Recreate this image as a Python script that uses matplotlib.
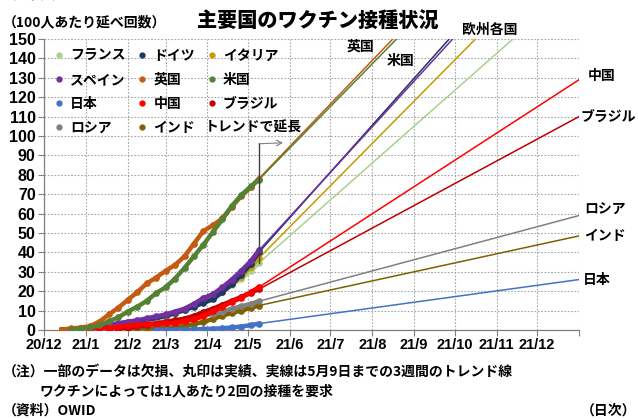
import numpy as np
import pandas as pd
import matplotlib
matplotlib.use('Agg')
import matplotlib.pyplot as plt
from matplotlib.lines import Line2D

plt.rcParams['font.family'] = ['Noto Sans CJK JP', 'DejaVu Sans']

# weekly readings (doses per 100 people)
dates = pd.to_datetime(['2020-12-14', '2020-12-21', '2020-12-28', '2021-01-04', '2021-01-11',
                        '2021-01-18', '2021-01-25', '2021-02-01', '2021-02-08', '2021-02-15',
                        '2021-02-22', '2021-03-01', '2021-03-08', '2021-03-15', '2021-03-22',
                        '2021-03-29', '2021-04-05', '2021-04-12', '2021-04-19', '2021-04-26',
                        '2021-05-03', '2021-05-09'])
nan = np.nan
france = [nan, nan, 0.0, 0.1, 0.5, 1.2, 2.1, 2.9, 3.8, 4.9, 6.0, 7.1, 8.5, 10.2, 12.2, 14.5, 16.5, 20.0, 23.0, 26.5, 30.5, 34.5]
germany = [nan, nan, 0.2, 0.5, 1.0, 1.8, 2.6, 3.5, 4.2, 5.2, 6.2, 7.3, 8.7, 10.3, 12.0, 14.0, 15.8, 19.5, 23.5, 28.5, 34.0, 40.0]
italy = [nan, nan, 0.1, 0.5, 1.4, 2.2, 2.8, 3.4, 4.2, 5.2, 6.2, 7.4, 8.8, 10.5, 12.3, 14.3, 16.5, 19.8, 23.5, 27.5, 32.5, 37.0]
spain = [nan, nan, 0.1, 0.5, 1.5, 2.5, 3.5, 4.3, 5.0, 6.0, 7.0, 8.0, 9.5, 11.0, 13.5, 16.5, 18.5, 22.0, 26.0, 30.5, 35.5, 41.0]
uk = [0.2, 0.8, 1.2, 2.0, 4.3, 8.0, 11.5, 15.5, 19.5, 24.0, 27.0, 30.5, 33.5, 38.0, 44.5, 51.0, 54.0, 57.5, 63.5, 69.0, 73.5, 78.0]
us = [nan, 0.2, 0.6, 1.3, 2.5, 4.5, 6.5, 9.5, 12.0, 15.0, 19.0, 22.0, 26.5, 32.0, 38.0, 44.0, 50.5, 57.0, 64.0, 69.5, 74.0, 77.5]
japan = [nan] * 10 + [0.01, 0.03, 0.1, 0.2, 0.3, 0.5, 0.7, 0.9, 1.3, 1.8, 2.5, 3.3]
china = [0.1, 0.2, 0.3, 0.4, 0.7, 1.0, 1.5, 2.2, 2.8, 2.9, 3.0, 3.4, 3.7, 4.6, 5.5, 7.0, 9.6, 12.0, 14.5, 16.5, 19.5, 22.0]
brazil = [nan] * 5 + [0.01, 0.5, 1.2, 1.9, 2.6, 3.3, 4.0, 4.9, 5.9, 7.3, 9.2, 11.0, 13.0, 15.0, 17.0, 19.3, 21.0]
russia = [0.05, 0.1, 0.3, 0.5, 0.7, 1.0, 1.4, 2.0, 2.5, 3.0, 3.7, 4.5, 5.0, 5.5, 6.5, 7.5, 8.3, 9.5, 11.0, 12.2, 13.5, 14.8]
india = [nan] * 5 + [0.01, 0.1, 0.3, 0.4, 0.6, 0.8, 1.0, 1.5, 2.2, 3.0, 4.2, 5.7, 7.4, 8.8, 10.0, 11.5, 12.6]

# trend line value reached at 2022/1/1 (extended, clipped at 150)
trend_end_date = pd.Timestamp('2022-01-01')
trend_end = {'フランス': 180, 'ドイツ': 225, 'イタリア': 204, 'スペイン': 221, '英国': 250, '米国': 246,
             '日本': 26, '中国': 129, 'ブラジル': 110, 'ロシア': 59, 'インド': 48.5}

series = {'フランス': france, 'ドイツ': germany, 'イタリア': italy, 'スペイン': spain,
          '英国': uk, '米国': us, '日本': japan, '中国': china, 'ブラジル': brazil,
          'ロシア': russia, 'インド': india}
colors = {'フランス': '#a9d18e', 'ドイツ': '#203864', 'イタリア': '#c49a00', 'スペイン': '#7030a0',
          '英国': '#c55a11', '米国': '#548235', '日本': '#4472c4', '中国': '#ff0000',
          'ブラジル': '#c00000', 'ロシア': '#808080', 'インド': '#7f6000'}
draw_order = ['フランス', 'イタリア', 'ドイツ', 'スペイン', 'インド', 'ロシア', 'ブラジル', '中国', '日本', '英国', '米国']
legend_order = ['フランス', 'スペイン', '日本', 'ロシア', 'ドイツ', '英国', '中国', 'インド', 'イタリア', '米国', 'ブラジル']

month_ticks = pd.date_range('2020-12-01', '2022-01-01', freq='MS')
tick_labels = ['20/12', '21/1', '21/2', '21/3', '21/4', '21/5', '21/6', '21/7', '21/8',
               '21/9', '21/10', '21/11', '21/12', '']

B = dict(fontweight='bold')

fig = plt.figure(figsize=(6.38, 4.19), dpi=100)
ax = fig.add_axes([0.069, 0.2124, 0.8385, 0.6945])

for z, name in enumerate(draw_order):
    vals = series[name]
    c = colors[name]
    ax.plot([dates[-1], trend_end_date], [vals[-1], trend_end[name]], color=c, lw=1.1, zorder=2)
    ax.plot(dates, vals, color=c, lw=3.2, marker='o', ms=3.8, zorder=3 + z)

ax.set_xlim(pd.Timestamp('2020-12-01'), trend_end_date)
ax.set_ylim(0, 150)
ax.set_yticks(range(0, 151, 10))
ax.set_xticks(month_ticks)
ax.set_xticklabels(tick_labels, fontfamily='Liberation Sans', fontweight='bold', fontsize=10.5)
for lab in ax.get_yticklabels():
    lab.set_fontfamily('Liberation Sans')
    lab.set_fontweight('bold')
    lab.set_fontsize(11.5)
ax.tick_params(axis='both', direction='out', length=4, color='#808080', width=0.8, pad=2)
ax.grid(True, color='#a6a6a6', linestyle=(0, (1.5, 1.5)), lw=0.8)
ax.set_axisbelow(True)
for s in ['top', 'right']:
    ax.spines[s].set_visible(False)
for s in ['left', 'bottom']:
    ax.spines[s].set_color('#808080')
    ax.spines[s].set_linewidth(0.9)

handles = [Line2D([], [], ls='none', marker='o', ms=3.5, color=colors[n]) for n in legend_order]
ax.legend(handles, legend_order, ncol=3, loc='upper left', bbox_to_anchor=(0.01, 0.985),
          frameon=False, prop={'size': 10, 'weight': 'bold'}, handlelength=0.6,
          handletextpad=0.5, labelspacing=0.72, columnspacing=0.9, borderaxespad=0)

# labels at the end of the trend lines
ax.text(pd.Timestamp('2021-07-23'), 146, '英国', fontsize=10, ha='center', va='center', **B)
ax.text(pd.Timestamp('2021-08-22'), 138.5, '米国', fontsize=10, ha='center', va='center', **B)
ax.text(pd.Timestamp('2021-10-27'), 155, '欧州各国', fontsize=10, ha='center', va='center', clip_on=False, **B)
right_labels = {'中国': (6, 3), 'ブラジル': (1, 0), 'ロシア': (4, 5), 'インド': (4, 0), '日本': (3, 0)}
for name, (dx, dy) in right_labels.items():
    ax.annotate(name, xy=(trend_end_date, trend_end[name]), xytext=(dx, dy), textcoords='offset points',
                fontsize=10, ha='left', va='center', annotation_clip=False, **B)

# trend annotation
ax.text(pd.Timestamp('2021-05-05'), 104.5, 'トレンドで延長', fontsize=10, ha='center', va='center', **B)
ax.plot([pd.Timestamp('2021-05-09'), pd.Timestamp('2021-05-09')], [34.5, 96], color='#404040', lw=1.0, zorder=20)
ax.annotate('', xy=(pd.Timestamp('2021-05-27'), 96.5), xytext=(pd.Timestamp('2021-05-09'), 96),
            arrowprops=dict(arrowstyle='->', color='#808080', lw=0.8, shrinkA=0, shrinkB=0))

fig.text(0.498, 0.947, '主要国のワクチン接種状況', fontsize=14.5, ha='center', va='center', fontweight='black')
fig.text(0.005, 0.947, '（100人あたり延べ回数）', fontsize=10, ha='left', va='center', **B)
fig.text(0.005, 1.012, '（図表1）', fontsize=10, ha='left', va='center', **B)

fig.text(0.005, 0.112, '（注）一部のデータは欠損、丸印は実績、実線は5月9日までの3週間のトレンド線',
         fontsize=10, ha='left', va='center', **B)
fig.text(0.062, 0.066, 'ワクチンによっては1人あたり2回の接種を要求', fontsize=10, ha='left', va='center', **B)
fig.text(0.005, 0.019, '（資料）OWID', fontsize=10, ha='left', va='center', **B)
fig.text(0.997, 0.019, '（日次）', fontsize=10, ha='right', va='center', **B)

fig.savefig('out.png', dpi=100)
